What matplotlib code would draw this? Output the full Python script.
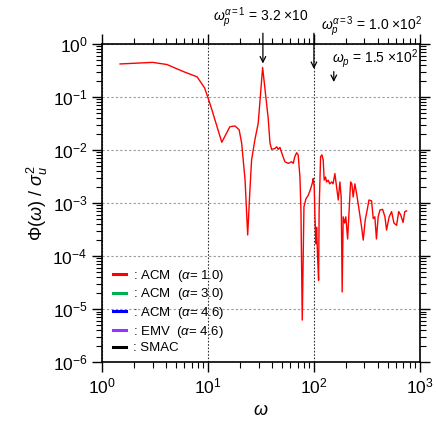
import numpy as np
import matplotlib
matplotlib.use('Agg')
import matplotlib.pyplot as plt

plt.rcParams['font.family'] = ['Liberation Sans', 'DejaVu Sans']
plt.rcParams['mathtext.fontset'] = 'custom'
plt.rcParams['mathtext.rm'] = 'Liberation Sans'
plt.rcParams['mathtext.it'] = 'Liberation Sans:italic'
plt.rcParams['mathtext.bf'] = 'Liberation Sans:bold'

# spectrum (ACM, alpha = 1.0)
omega = [1.48, 3.0, 4.1, 5.9, 7.9, 9.3, 10.0, 10.9, 13.5, 16.1, 18.0, 19.7, 20.8, 22.4,
         23.7, 24.9, 25.8, 27.7, 29.8, 32.8, 37.0, 38.5, 39.9, 42.9, 44.5, 46.0, 47.8,
         49.6, 53.2, 57.3, 61.6, 63.8, 66.0, 68.7, 71.0, 73.8, 75.4, 77.6, 80.5, 84.0,
         88.4, 93.5, 97.2, 98.5, 100.7, 102.3, 104.5, 106.0, 108.3, 110.7, 112.0, 115.6,
         119.0, 122.4, 125.0, 128.8, 131.7, 136.4, 141.0, 147.0, 151.6, 157.7, 163.7,
         169.8, 175.8, 180.8, 184.8, 188.8, 195.0, 200.0, 208.0, 215.0, 222.0, 228.0,
         234.6, 243.6, 253.0, 267.0, 282.0, 292.0, 305.0, 318.0, 331.0, 350.0, 363.0,
         376.0, 389.0, 404.0, 420.0, 445.0, 468.0, 485.0, 513.0, 541.0, 569.0, 603.0,
         631.0, 661.0, 694.0, 721.0, 748.0]
acm_a1 = [0.42, 0.45, 0.41, 0.30, 0.24, 0.148, 0.097, 0.057, 0.014, 0.0275, 0.0284, 0.024,
          0.0134, 0.0027, 2.5e-4, 0.0018, 0.0065, 0.0155, 0.032, 0.36, 0.04, 0.0134, 0.0103,
          0.0107, 0.0115, 0.0103, 0.0112, 0.0089, 0.006, 0.0056, 0.006, 0.0056, 0.0075,
          0.0089, 0.0081, 0.0031, 7.4e-4, 6.2e-6, 8.5e-4, 0.0012, 0.0014, 0.0019, 0.0025,
          0.0029, 0.002, 5.5e-4, 1.7e-4, 3.5e-4, 9.7e-5, 3.5e-5, 7.4e-4, 0.0075, 0.0081,
          0.0065, 0.0027, 0.0031, 0.0025, 0.0027, 0.0023, 0.0025, 0.0023, 0.0036, 0.002,
          0.00114, 0.0025, 0.0013, 2.1e-5, 5.5e-4, 4.2e-4, 5.5e-4, 2.1e-4, 7.4e-4, 0.0025,
          0.0023, 0.0013, 0.0023, 0.0015, 7.4e-4, 3.5e-4, 2.0e-4, 4.8e-4, 7.4e-4, 0.00114,
          0.0011, 5.1e-4, 5.5e-4, 2.1e-4, 5.5e-4, 7.4e-4, 7.6e-4, 5.5e-4, 3.1e-4, 5.5e-4,
          6.9e-4, 4.2e-4, 3.8e-4, 6.9e-4, 5.9e-4, 4.3e-4, 6.9e-4, 7.1e-4]

labels = [r': ACM  ($\alpha$= 1.0)', r': ACM  ($\alpha$= 3.0)', r': ACM  ($\alpha$= 4.6)',
          r': EMV  ($\alpha$= 4.6)', ': SMAC']
colors = ['#ff0000', '#00b050', '#0000ff', '#9933ff', '#000000']

peak_x = [33, 100, 154]
peak_text = [r'$\omega_p^{\alpha=1}$ = 3.2 ×10', r'$\omega_p^{\alpha=3}$ = 1.0 ×10$^2$',
             r'$\omega_p$ = 1.5 ×10$^2$']

fig = plt.figure(figsize=(4.36, 4.25), dpi=100)
ax = fig.add_axes([0.234, 0.148, 0.729, 0.7485])

series = [(omega, acm_a1), ([], []), ([], []), ([], []), ([], [])]
for (xs, ys), lab, c in zip(series, labels, colors):
    ax.plot(xs, ys, color=c, lw=1.0, label=lab)

ax.set_xscale('log')
ax.set_yscale('log')
ax.set_xlim(1, 1000)
ax.set_ylim(1e-6, 1)

ax.yaxis.grid(True, which='major', ls=(0, (2, 2)), color='#9a9a9a', lw=0.8)
ax.xaxis.grid(True, which='major', ls=(0, (1.5, 1.5)), color='#333333', lw=0.8)
ax.set_axisbelow(True)

ax.tick_params(which='both', direction='out', top=True, right=True, labelsize=12.5)
ax.tick_params(which='major', length=7, width=1.0)
ax.tick_params(which='minor', length=4, width=0.8)
for s in ax.spines.values():
    s.set_linewidth(1.2)

ax.set_xlabel(r'$\omega$', fontsize=13, labelpad=4)
ax.set_ylabel(r'$\Phi(\omega)\ /\ \sigma_u^2$', fontsize=13, labelpad=2)

# peak arrows
ax.annotate('', xy=(peak_x[0], 0.38), xytext=(peak_x[0], 1.8),
            arrowprops=dict(arrowstyle='->', color='k', lw=0.9), annotation_clip=False)
ax.annotate('', xy=(peak_x[1], 0.3), xytext=(peak_x[1], 1.8),
            arrowprops=dict(arrowstyle='->', color='k', lw=0.9), annotation_clip=False)
ax.annotate('', xy=(peak_x[2], 0.17), xytext=(peak_x[2], 0.34),
            arrowprops=dict(arrowstyle='->', color='k', lw=0.9), annotation_clip=False)
ax.text(11.1, 3.1, peak_text[0], fontsize=10, va='center', ha='left', clip_on=False)
ax.text(116, 2.1, peak_text[1], fontsize=10, va='center', ha='left', clip_on=False)
ax.text(148, 0.54, peak_text[2], fontsize=10, va='center', ha='left', clip_on=False)

leg = ax.legend(loc='lower left', bbox_to_anchor=(0.005, -0.005), frameon=False,
                fontsize=9.5, handlelength=1.0, handletextpad=0.5, labelspacing=0.2,
                borderaxespad=0.3)
for h in leg.get_lines():
    h.set_linewidth(2.2)

fig.savefig('out.png', dpi=100)
